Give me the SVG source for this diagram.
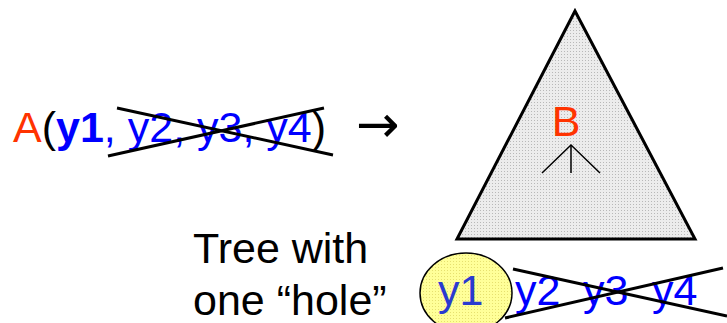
<svg xmlns="http://www.w3.org/2000/svg" width="727" height="323" viewBox="0 0 727 323">
<style>
text{font-family:"Liberation Sans",Arial,sans-serif;font-size:43px}
.red{fill:#ff3300}
.blue{fill:#0000ff}
.blk{fill:#000}
.x{stroke:#000;stroke-width:3;fill:none}
</style>
<defs>
<pattern id="gray" width="3" height="3" patternUnits="userSpaceOnUse">
<rect width="3" height="3" fill="#ececec"/>
<rect width="1" height="1" fill="#b8b8b8"/>
</pattern>
<pattern id="yel" width="3" height="3" patternUnits="userSpaceOnUse">
<rect width="3" height="3" fill="#ffff99"/>
<rect width="1" height="1" fill="#e6e070"/>
</pattern>
</defs>
<g id="expr">
<text y="142"><tspan x="13" class="red">A</tspan><tspan class="blk">(</tspan><tspan class="blue" font-weight="bold">y1</tspan><tspan class="blue">, y2, y3, y4</tspan><tspan class="blk">)</tspan></text>
<line class="x" x1="117" y1="108" x2="333" y2="155"/>
<line class="x" x1="108" y1="156" x2="324" y2="108"/>
</g>
<g id="arrow">
<text x="356" y="142" style="font-family:'DejaVu Sans',sans-serif;font-size:52px" class="blk">→</text>
</g>
<g id="tree">
<polygon points="575,11 457,239 695,239" fill="url(#gray)" stroke="#000" stroke-width="3" stroke-linejoin="miter"/>
<text x="566" y="136" text-anchor="middle" class="red">B</text>
<polyline points="542,173 571,145 600,173" fill="none" stroke="#000" stroke-width="1.5"/>
<line x1="571" y1="145" x2="571" y2="173" stroke="#000" stroke-width="1.5"/>
</g>
<g id="label">
<text x="193" y="263" class="blk">Tree with</text>
<text x="193" y="315" class="blk">one “hole”</text>
</g>
<g id="hole">
<ellipse cx="466" cy="293" rx="46" ry="40" fill="url(#yel)" stroke="#000" stroke-width="1.5"/>
<text x="438" y="305" fill="#2a3ad0">y1</text>
</g>
<g id="leaves">
<text x="515" y="305" class="blue">y2</text>
<text x="583" y="305" class="blue">y3</text>
<text x="652" y="305" class="blue">y4</text>
<line class="x" x1="513" y1="269" x2="727" y2="316"/>
<line class="x" x1="505" y1="318" x2="723" y2="268"/>
</g>
</svg>
